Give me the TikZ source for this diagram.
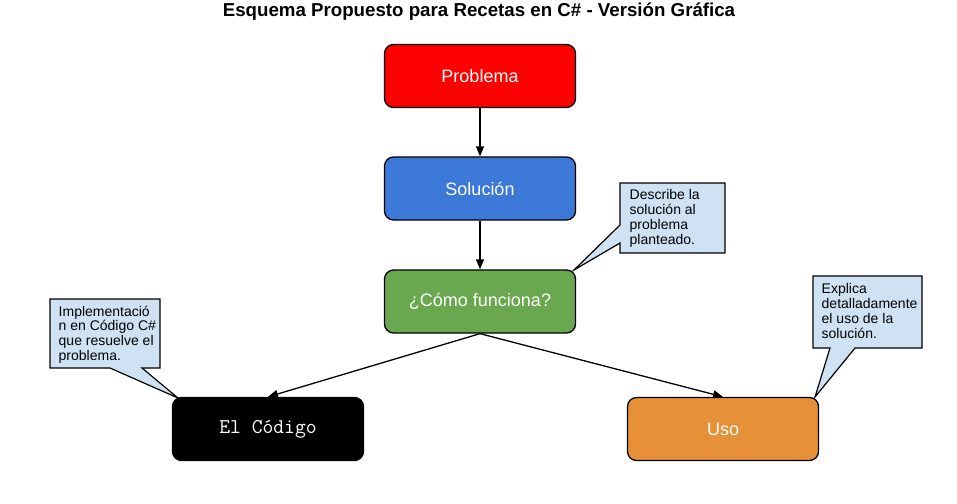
\documentclass[tikz,border=0pt]{standalone}
\usepackage{fontspec}
\setmainfont{Liberation Sans}
\usetikzlibrary{arrows.meta}
\definecolor{cred}{HTML}{FF0000}
\definecolor{cblu}{HTML}{3C78D8}
\definecolor{cgreen}{HTML}{6AA84F}
\definecolor{corange}{HTML}{E69138}
\definecolor{clight}{HTML}{CFE2F3}
\begin{document}
\begin{tikzpicture}[x=1pt,y=-1pt,
  box/.style={draw=black, line width=1.3pt, rounded corners=9pt, minimum width=191pt, minimum height=63pt, inner sep=0pt, font=\fontsize{18}{20}\selectfont, text=white},
  callout/.style={fill=clight, draw=black, line width=1.2pt, line join=miter},
  ctext/.style={anchor=north west, inner sep=0pt, align=left, font=\fontsize{14}{14.8}\selectfont},
  arr/.style={line width=1.3pt, -{Triangle[length=10pt,width=8pt]}}]
\useasboundingbox (0,0) rectangle (957,503);
\node[font=\bfseries\fontsize{18.7}{20}\selectfont] (title) at (479,12) {Esquema Propuesto para Recetas en C\# - Versión Gráfica};
% callouts
\coordinate (t1) at (574,270);
\coordinate (t2) at (178,398);
\coordinate (t3) at (815,397);
\draw[callout] (620,183) -- (725,183) -- (725,253) -- (620,253) -- (620,243) -- (t1) -- (620,225) -- cycle;
\draw[callout] (50,299) -- (160,299) -- (160,368) -- (142,368) -- (t2) -- (110,368) -- (50,368) -- cycle;
\draw[callout] (813,276) -- (922,276) -- (922,348) -- (855,348) -- (t3) -- (830,348) -- (813,348) -- cycle;
\node[ctext] (c1) at (629.5,189.5) {Describe la\\solución al\\problema\\planteado.};
\node[ctext] (c2) at (58.5,305.5) {Implementació\\n en Código C\#\\que resuelve el\\problema.};
\node[ctext] (c3) at (821.5,283.5) {Explica\\detalladamente\\el uso de la\\solución.};
% boxes
\node[box, fill=cred] (prob) at (480,76) {Problema};
\node[box, fill=cblu] (sol) at (480,188.5) {Solución};
\node[box, fill=cgreen] (como) at (480,301.5) {¿Cómo funciona?};
\node[box, fill=black, font=\ttfamily\fontsize{21}{22}\selectfont] (code) at (268,429) {El Código};
\node[box, fill=corange] (uso) at (723,429) {Uso};
% arrows
\draw[arr] (prob) -- (sol);
\draw[arr] (sol) -- (como);
\draw[arr] (como.south) -- (code.north);
\draw[arr] (como.south) -- (uso.north);
\end{tikzpicture}
\end{document}
